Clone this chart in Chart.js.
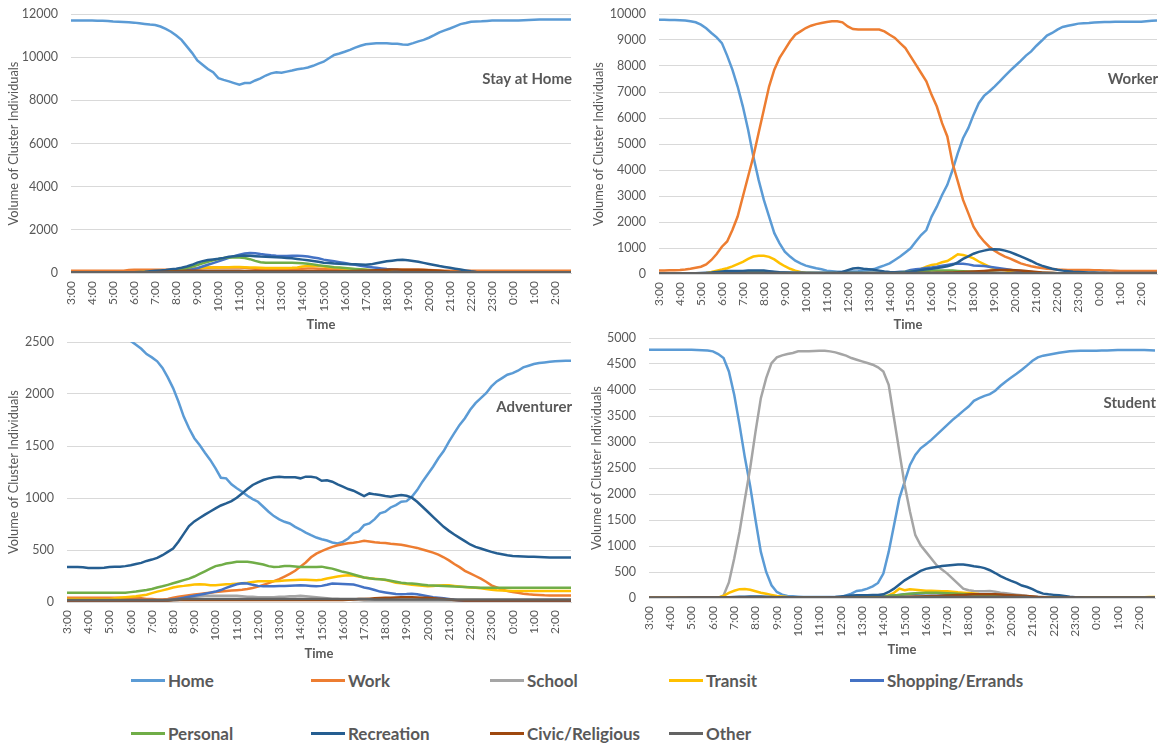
<!DOCTYPE html>
<html>
<head>
<meta charset="utf-8">
<title>Hourly activity volume by cluster</title>
<script src="https://cdn.jsdelivr.net/npm/chart.js@4.4.1/dist/chart.umd.min.js"></script>
<style>
  html, body { margin: 0; padding: 0; background: #ffffff; }
  body { width: 1167px; height: 744px; position: relative; overflow: hidden; font-family: Lato, "Open Sans", sans-serif; }
  .panel { position: absolute; }
  .panel canvas { display: block; }
  .legend-item { position: absolute; height: 22px; display: flex; align-items: center; white-space: nowrap;
                 font-weight: bold; font-size: 17px; color: #595959; }
  .legend-swatch { width: 34px; height: 3px; margin-right: 3px; }
</style>
</head>
<body>
<div class="panel" style="left:0px;top:0px;"><canvas id="stayAtHome" width="580" height="333"></canvas></div>
<div class="panel" style="left:585px;top:0px;"><canvas id="worker" width="582" height="333"></canvas></div>
<div class="panel" style="left:0px;top:330px;"><canvas id="adventurer" width="580" height="332"></canvas></div>
<div class="panel" style="left:583px;top:330px;"><canvas id="student" width="584" height="328"></canvas></div>
<div id="legend"></div>

<script>
// ---- time axis: hour tick labels and 15-minute slots ----
const HOUR_LABELS = ['3:00','4:00','5:00','6:00','7:00','8:00','9:00','10:00','11:00','12:00','13:00','14:00',
                     '15:00','16:00','17:00','18:00','19:00','20:00','21:00','22:00','23:00','0:00','1:00','2:00'];
const QUARTERS = ['00', '15', '30', '45'];
const TIME_SLOTS = HOUR_LABELS.flatMap(h => QUARTERS.map(q => h.replace(':00', ':' + q)));

// ---- activity categories ----
const ACTIVITIES = ['Home', 'Work', 'School', 'Transit', 'Shopping/Errands', 'Personal', 'Recreation', 'Civic/Religious', 'Other'];
const ACTIVITY_COLORS = ['#5B9BD5', '#ED7D31', '#A5A5A5', '#FFC000', '#4472C4', '#70AD47', '#255E91', '#9E480E', '#636363'];

// ---- Stay at Home cluster (values every 15 minutes, 3:00 -> 2:45) ----
const SAH_HOME = [
  11700,11700,11700,11700, 11700,11690,11690,11680, 11650,11640,11630,11620, 11600,11570,11540,11510, 11490,11420,11310,11180, 11000,10800,10500,10200,
  9850,9650,9450,9300, 9030,8950,8880,8800, 8720,8800,8800,8920, 9020,9150,9250,9300, 9280,9330,9380,9440, 9470,9520,9600,9700,
  9790,9950,10100,10170, 10250,10340,10440,10530, 10600,10620,10640,10640, 10640,10620,10620,10590, 10580,10650,10730,10800, 10900,11020,11150,11240,
  11330,11430,11530,11580, 11640,11650,11660,11680, 11700,11700,11700,11700, 11700,11700,11710,11720, 11730,11740,11740,11740, 11740,11740,11740,11740
];
const SAH_WORK = [
  100,100,100,100, 100,100,100,100, 100,100,110,140, 150,150,150,150, 150,150,150,150, 150,160,170,190,
  210,230,240,250, 250,260,260,260, 250,240,220,200, 190,180,180,180, 180,180,190,200, 200,210,210,200,
  190,180,170,160, 150,140,130,130, 120,120,120,120, 120,130,140,150, 150,150,150,150, 140,130,120,110,
  100,100,100,100, 100,100,100,100, 100,100,100,100, 100,100,100,100, 100,100,100,100, 100,100,100,100
];
const SAH_SCHOOL = [
  40,40,40,40, 40,40,40,40, 40,40,40,40, 40,40,40,40, 40,40,50,50, 50,60,60,70,
  70,80,80,80, 80,80,80,80, 80,80,80,80, 80,80,80,80, 80,80,80,80, 80,80,80,80,
  70,70,60,60, 60,50,50,50, 40,40,40,40, 40,40,40,40, 40,40,40,40, 40,40,40,40,
  40,40,40,40, 40,40,40,40, 40,40,40,40, 40,40,40,40, 40,40,40,40, 40,40,40,40
];
const SAH_TRANSIT = [
  40,40,40,40, 40,40,40,40, 40,40,40,40, 40,50,60,70, 80,90,100,120, 140,160,180,200,
  220,240,250,250, 260,270,270,280, 280,270,260,250, 240,230,230,230, 230,230,240,260, 300,330,340,330,
  300,270,250,230, 210,190,170,160, 150,130,110,100, 90,80,70,70, 60,60,60,60, 50,50,50,50,
  40,40,40,40, 40,40,40,40, 40,40,40,40, 40,40,40,40, 40,40,40,40, 40,40,40,40
];
const SAH_SHOPPING = [
  10,10,10,10, 10,10,10,10, 10,10,10,10, 10,10,20,20, 30,40,50,60, 80,100,130,170,
  220,300,380,460, 540,620,700,780, 850,900,930,920, 880,850,820,800, 790,790,800,800, 790,760,720,680,
  620,580,540,500, 460,420,380,340, 300,270,240,210, 180,160,140,110, 80,70,50,40, 30,20,20,10,
  10,10,10,10, 10,10,10,10, 10,10,10,10, 10,10,10,10, 10,10,10,10, 10,10,10,10
];
const SAH_PERSONAL = [
  20,20,20,20, 20,20,20,20, 20,20,20,20, 20,20,30,30, 40,60,80,100, 140,180,230,300,
  370,450,520,590, 650,700,720,730, 720,690,640,560, 500,480,480,480, 480,480,470,460, 450,430,400,360,
  330,300,270,250, 230,210,190,170, 150,130,110,100, 80,60,50,40, 30,30,20,20, 20,20,20,20,
  20,20,20,20, 20,20,20,20, 20,20,20,20, 20,20,20,20, 20,20,20,20, 20,20,20,20
];
const SAH_RECREATION = [
  30,30,30,30, 30,30,30,30, 30,30,30,30, 40,50,60,80, 100,120,140,170, 200,240,300,380,
  480,550,600,630, 660,700,750,780, 800,810,800,780, 760,750,740,730, 720,700,680,650, 620,590,560,520,
  480,460,440,430, 420,410,400,390, 380,400,450,500, 540,570,600,610, 590,560,520,470, 420,370,320,280,
  240,200,160,120, 80,50,30,20, 10,10,10,10, 10,10,10,10, 10,10,10,10, 10,10,10,10
];
const SAH_CIVIC = [
  30,30,30,30, 30,30,30,30, 30,30,30,30, 30,30,30,30, 40,50,60,70, 80,90,100,100,
  100,100,110,110, 110,110,100,100, 100,90,90,90, 80,80,80,80, 80,80,80,80, 80,80,80,80,
  80,80,80,80, 80,80,90,100, 110,120,130,140, 150,160,160,150, 150,150,150,140, 130,120,100,80,
  60,50,40,30, 20,20,20,20, 20,20,20,20, 20,20,20,20, 20,20,20,20, 20,20,20,20
];
const SAH_OTHER = [
  30,30,30,30, 30,30,30,30, 30,30,30,30, 30,30,30,30, 30,30,30,30, 50,50,50,50,
  50,50,50,50, 50,50,50,50, 50,50,50,50, 50,50,50,50, 50,50,50,50, 50,50,50,50,
  50,50,50,50, 50,50,50,50, 50,50,50,50, 30,30,30,30, 30,30,30,30, 30,30,30,30,
  30,30,30,30, 30,30,30,30, 30,30,30,30, 30,30,30,30, 30,30,30,30, 30,30,30,30
];

// ---- Worker cluster ----
const WRK_HOME = [
  9780,9780,9770,9770, 9760,9750,9720,9680, 9590,9450,9270,9100, 8880,8400,7860,7210, 6440,5550,4520,3620, 2850,2210,1570,1180,
  860,670,510,410, 320,270,220,180, 130,110,90,90, 90,100,110,130, 150,190,260,330, 410,540,670,830,
  990,1250,1500,1690, 2210,2590,3040,3430, 4000,4650,5220,5610, 6120,6570,6850,7020, 7210,7410,7620,7820, 8010,8200,8400,8560,
  8780,8970,9170,9270, 9400,9500,9550,9590, 9630,9640,9650,9670, 9680,9690,9690,9700, 9700,9700,9700,9700, 9700,9720,9740,9750
];
const WRK_WORK = [
  130,135,140,145, 150,170,200,240, 280,370,540,770, 1050,1250,1690,2210, 2980,3750,4520,5420, 6320,7210,7860,8310,
  8630,8950,9200,9330, 9460,9550,9610,9650, 9690,9720,9720,9680, 9520,9420,9400,9400, 9400,9400,9400,9330, 9200,9080,8880,8690,
  8370,8050,7730,7410, 6890,6440,5800,5290, 4260,3560,2850,2340, 1820,1500,1250,1050, 900,770,670,590, 500,410,350,300,
  260,230,200,190, 170,160,150,150, 150,150,150,145, 140,135,130,125, 120,120,120,120, 120,120,120,120
];
const WRK_SCHOOL = [
  10,10,10,10, 10,10,10,10, 10,10,10,10, 10,10,10,10, 10,10,10,10, 10,10,10,10,
  10,10,10,10, 10,10,10,10, 10,10,10,10, 10,10,10,10, 10,10,10,10, 10,10,10,10,
  10,10,10,10, 10,10,10,10, 10,10,10,10, 10,10,10,10, 10,10,10,10, 10,10,10,10,
  10,10,10,10, 10,10,10,10, 10,10,10,10, 10,10,10,10, 10,10,10,10, 10,10,10,10
];
const WRK_TRANSIT = [
  20,20,20,20, 20,20,20,20, 20,40,80,130, 170,220,290,380, 470,580,670,700, 700,660,560,420,
  300,200,130,80, 50,40,30,30, 30,30,30,30, 30,30,30,30, 30,30,30,40, 40,50,60,80,
  100,150,200,280, 350,380,450,500, 620,760,730,680, 600,480,380,280, 220,170,140,110, 90,80,70,60,
  50,45,40,35, 30,25,20,20, 20,20,20,20, 20,20,20,20, 20,20,20,20, 20,20,20,20
];
const WRK_SHOPPING = [
  20,20,20,20, 20,20,20,20, 20,20,20,20, 40,50,60,70, 80,90,100,100, 100,90,70,60,
  50,50,50,50, 50,50,50,50, 50,50,50,50, 50,50,50,50, 50,50,50,50, 60,70,90,100,
  150,180,200,230, 250,280,320,350, 380,390,390,370, 330,320,310,280, 250,220,190,160, 130,110,90,75,
  60,50,40,35, 30,25,20,20, 20,20,20,20, 20,20,20,20, 20,20,20,20, 20,20,20,20
];
const WRK_PERSONAL = [
  10,10,10,10, 10,10,10,10, 10,10,10,10, 20,30,40,50, 60,60,60,60, 60,50,50,40,
  40,40,40,40, 40,40,40,40, 40,40,40,40, 40,40,40,40, 40,40,40,40, 50,60,70,80,
  90,100,110,120, 130,130,130,130, 130,120,110,100, 90,80,70,60, 50,40,30,30, 20,20,20,20,
  20,20,20,20, 20,20,20,20, 20,20,20,20, 20,20,20,20, 20,20,20,20, 20,20,20,20
];
const WRK_RECREATION = [
  20,20,20,20, 20,20,20,30, 40,50,60,80, 100,120,120,120, 120,130,130,130, 130,110,90,70,
  60,50,40,35, 30,30,30,30, 30,30,50,80, 150,210,230,200, 180,160,130,100, 80,70,60,70,
  90,120,150,180, 200,230,260,300, 350,450,580,680, 780,850,900,940, 950,940,900,840, 760,680,590,500,
  400,320,260,200, 160,130,110,90, 80,70,60,55, 50,45,40,40, 40,40,40,40, 40,40,40,40
];
const WRK_CIVIC = [
  20,20,20,20, 20,20,20,20, 20,20,20,20, 20,20,20,20, 20,20,20,20, 20,20,20,20,
  20,20,20,20, 20,20,20,20, 20,20,20,20, 20,20,20,20, 20,20,20,20, 20,20,20,20,
  30,30,40,40, 40,50,50,60, 60,70,80,90, 100,110,120,130, 140,150,150,150, 140,130,120,100,
  80,60,50,40, 30,30,20,20, 20,20,20,20, 20,20,20,20, 20,20,20,20, 20,20,20,20
];
const WRK_OTHER = [
  30,30,30,30, 30,30,30,30, 30,30,30,30, 30,30,30,30, 40,40,40,40, 40,40,40,40,
  40,40,40,40, 40,40,40,40, 40,40,40,40, 40,40,40,40, 40,40,40,40, 40,40,40,40,
  40,40,40,40, 40,40,40,40, 40,40,40,40, 40,40,40,40, 40,40,40,40, 30,30,30,30,
  30,30,30,30, 30,30,30,30, 30,30,30,30, 30,30,30,30, 30,30,30,30, 30,30,30,30
];

// ---- Adventurer cluster ----
const ADV_HOME = [
  2650,2650,2650,2650, 2650,2650,2650,2640, 2630,2610,2590,2550, 2510,2474,2435,2384, 2352,2314,2250,2160, 2057,1928,1783,1671,
  1575,1510,1436,1366, 1285,1195,1189,1131, 1093,1060,1022,990, 964,916,868,826, 794,771,755,723, 697,668,643,620,
  604,591,572,562, 578,611,659,681, 739,755,797,852, 868,909,932,964, 970,1012,1076,1157, 1228,1301,1382,1452,
  1542,1623,1703,1767, 1848,1912,1960,2008, 2073,2121,2153,2185, 2201,2224,2256,2272, 2288,2298,2304,2310, 2314,2318,2320,2320
];
const ADV_WORK = [
  40,40,40,40, 40,40,40,40, 40,40,40,40, 40,38,35,30, 28,25,25,30, 40,50,58,65,
  72,78,84,90, 95,100,106,110, 114,118,125,135, 148,165,182,200, 220,245,270,300, 340,380,430,465,
  490,510,530,545, 555,565,570,578, 588,582,575,570, 568,560,555,550, 540,530,520,505, 490,475,455,430,
  400,365,335,300, 275,250,225,195, 160,140,120,105, 95,88,80,74, 70,67,64,63, 63,63,63,63
];
const ADV_SCHOOL = [
  10,10,10,10, 10,10,10,10, 10,10,10,10, 10,10,10,10, 10,10,10,10, 15,20,30,40,
  50,55,60,60, 60,60,60,60, 60,55,50,50, 45,45,45,45, 50,50,55,55, 60,55,50,45,
  40,35,30,30, 25,25,20,20, 15,15,15,15, 15,15,15,15, 15,15,15,15, 15,15,15,15,
  15,15,15,15, 15,15,15,15, 15,15,15,15, 15,15,15,15, 15,15,15,15, 15,15,15,15
];
const ADV_TRANSIT = [
  30,30,30,30, 30,30,30,30, 30,35,40,45, 50,55,62,70, 85,100,112,125, 140,150,155,162,
  168,170,168,162, 161,165,170,172, 176,180,185,192, 199,200,199,199, 202,206,209,212, 214,215,212,209,
  215,225,235,245, 252,257,255,245, 235,228,224,220, 212,200,186,180, 172,166,160,155, 151,154,158,160,
  160,155,150,145, 140,136,132,125, 118,112,110,108, 106,106,106,106, 106,106,106,106, 106,106,106,106
];
const ADV_SHOPPING = [
  15,15,15,15, 15,15,15,15, 15,15,15,15, 15,15,15,15, 15,15,15,20, 25,32,40,50,
  60,70,80,90, 100,115,135,154, 170,180,178,165, 155,151,151,151, 153,155,157,159, 161,158,155,151,
  155,165,177,175, 172,170,168,155, 140,130,115,100, 92,85,78,74, 76,80,75,65, 55,45,40,35,
  30,22,15,10, 6,5,5,5, 5,5,5,5, 5,5,5,5, 5,5,5,5, 5,5,5,5
];
const ADV_PERSONAL = [
  90,90,90,90, 90,90,90,90, 90,90,90,90, 95,100,108,115, 125,140,151,165, 180,195,210,225,
  245,270,295,320, 345,355,370,378, 386,388,386,380, 370,360,345,337, 340,345,347,342, 337,337,337,337,
  340,330,321,305, 290,280,265,250, 235,228,222,218, 215,205,195,186, 180,177,172,166, 161,158,156,154,
  152,148,146,145, 142,140,138,138, 138,138,138,138, 138,138,138,138, 138,138,138,138, 138,138,138,138
];
const ADV_RECREATION = [
  337,337,337,335, 328,328,328,330, 337,338,340,345, 353,365,376,395, 408,424,450,482, 515,580,655,730,
  775,808,840,870, 900,928,948,970, 1003,1044,1086,1125, 1150,1173,1189,1199, 1205,1199,1199,1199, 1189,1205,1205,1196,
  1166,1170,1157,1131, 1109,1086,1070,1044, 1019,1044,1035,1028, 1019,1012,1022,1028, 1022,1003,964,916, 868,819,771,723,
  684,649,617,585, 553,530,514,498, 482,469,460,450, 443,440,437,434, 434,432,430,428, 427,427,427,427
];
const ADV_CIVIC = [
  15,15,15,15, 15,15,15,15, 15,15,15,15, 15,15,15,15, 15,15,15,15, 20,20,20,20,
  20,20,20,20, 20,20,20,20, 20,20,20,20, 20,20,20,20, 20,20,20,20, 20,20,20,20,
  20,20,20,20, 20,22,25,28, 30,32,35,38, 40,42,44,45, 45,45,44,42, 40,36,32,28,
  24,20,18,15, 15,15,15,15, 15,15,15,15, 15,15,15,15, 15,15,15,15, 15,15,15,15
];
const ADV_OTHER = [
  20,20,20,20, 20,20,20,20, 20,20,20,20, 20,20,20,20, 20,20,20,20, 22,25,28,30,
  30,30,30,30, 30,30,30,30, 30,30,30,30, 30,30,30,30, 30,30,30,30, 30,30,30,30,
  30,30,30,30, 30,30,30,30, 28,26,25,25, 25,25,25,25, 25,25,25,25, 25,25,25,25,
  25,25,25,25, 25,25,25,25, 25,25,25,25, 25,25,25,25, 25,25,25,25, 25,25,25,25
];

// ---- Student cluster ----
const STU_HOME = [
  4775,4775,4775,4775, 4775,4775,4775,4775, 4775,4770,4765,4760, 4743,4692,4615,4357, 3908,3329,2700,2150, 1500,887,501,244,
  116,64,39,32, 25,20,20,20, 20,20,20,20, 20,51,84,135, 148,180,225,289, 469,887,1401,1915,
  2237,2558,2751,2879, 2956,3040,3136,3233, 3329,3426,3509,3599, 3683,3792,3843,3888, 3920,3985,4081,4165, 4242,4312,4390,4473,
  4563,4627,4660,4679, 4698,4717,4730,4743, 4750,4753,4756,4756, 4756,4760,4762,4765, 4769,4769,4769,4769, 4769,4769,4765,4762
];
const STU_WORK = [
  5,5,5,5, 5,5,5,5, 5,5,5,5, 5,5,5,5, 5,5,5,5, 5,5,5,5,
  5,5,5,5, 5,5,5,5, 5,5,5,5, 5,5,5,5, 5,5,5,5, 5,10,10,15,
  15,20,20,25, 25,30,30,35, 35,40,40,45, 45,50,50,50, 50,50,45,40, 35,30,25,20,
  15,10,10,5, 5,5,5,5, 5,5,5,5, 5,5,5,5, 5,5,5,5, 5,5,5,5
];
const STU_SCHOOL = [
  0,0,0,0, 0,0,0,0, 0,0,0,0, 0,0,50,300, 758,1273,1900,2500, 3200,3843,4229,4518,
  4627,4666,4692,4711, 4743,4743,4743,4750, 4756,4756,4743,4724, 4692,4660,4615,4583, 4550,4518,4486,4435, 4357,4100,3458,2815,
  2172,1658,1208,1015, 887,758,630,546, 469,373,276,180, 148,135,129,132, 135,120,103,90, 77,65,51,40,
  32,25,20,15, 10,10,10,10, 5,5,5,5, 5,5,5,5, 5,5,5,5, 5,5,5,5
];
const STU_TRANSIT = [
  0,0,0,0, 0,0,0,0, 0,0,0,0, 0,10,40,100, 140,170,175,160, 130,100,80,60,
  40,30,20,15, 10,10,10,10, 10,10,10,10, 10,10,10,10, 10,15,20,25, 30,50,100,180,
  150,170,160,150, 140,138,135,130, 128,120,110,103, 95,85,75,71, 60,51,45,40, 35,30,25,20,
  15,10,8,6, 5,5,5,5, 5,5,5,5, 5,5,5,5, 5,5,5,5, 10,15,20,20
];
const STU_SHOPPING = [
  0,0,0,0, 0,0,0,0, 0,0,0,0, 0,0,0,0, 5,10,15,15, 15,15,15,10,
  10,10,10,10, 10,10,10,10, 10,10,10,10, 10,10,10,10, 15,20,25,30, 35,40,50,60,
  70,75,80,85, 90,90,90,85, 80,75,70,65, 60,55,50,45, 40,35,30,25, 20,15,10,10,
  5,5,5,5, 5,5,5,5, 5,5,5,5, 5,5,5,5, 5,5,5,5, 5,5,5,5
];
const STU_PERSONAL = [
  0,0,0,0, 0,0,0,0, 0,0,0,0, 0,0,0,0, 5,10,10,10, 10,10,10,10,
  10,10,10,10, 10,10,10,10, 10,10,10,10, 10,10,10,10, 10,15,20,25, 30,40,50,60,
  70,80,90,95, 100,100,100,95, 90,85,80,75, 70,60,50,45, 40,35,30,25, 20,15,10,10,
  5,5,5,5, 5,5,5,5, 5,5,5,5, 5,5,5,5, 5,5,5,5, 5,5,5,5
];
const STU_RECREATION = [
  0,0,0,0, 0,0,5,5, 10,10,10,10, 10,10,10,15, 20,25,25,30, 30,30,25,20,
  15,15,10,10, 10,10,10,10, 10,10,15,20, 30,40,50,55, 55,55,60,60, 70,116,180,260,
  340,400,460,520, 560,580,598,615, 625,635,643,643, 630,610,598,575, 534,480,420,373, 330,290,240,212,
  170,120,84,70, 60,51,40,25, 15,10,5,5, 5,5,5,5, 5,5,5,5, 5,5,5,5
];
const STU_CIVIC = [
  5,5,5,5, 5,5,5,5, 5,5,5,5, 5,5,5,5, 5,5,5,5, 5,5,5,5,
  5,5,5,5, 5,5,5,5, 5,5,5,5, 5,5,5,5, 5,5,5,5, 5,10,10,15,
  20,25,30,30, 35,40,40,45, 50,55,60,60, 65,70,70,70, 70,70,65,60, 55,50,45,40,
  30,20,15,10, 5,5,5,5, 5,5,5,5, 5,5,5,5, 5,5,5,5, 5,5,5,5
];
const STU_OTHER = [
  5,5,5,5, 5,5,5,5, 5,5,5,5, 5,5,5,5, 5,5,5,5, 5,5,5,5,
  5,5,5,5, 5,5,5,5, 5,5,5,5, 5,5,5,5, 5,5,5,5, 20,20,20,20,
  20,20,20,20, 20,20,20,20, 20,20,20,20, 20,20,20,20, 20,20,20,20, 20,20,20,20,
  5,5,5,5, 5,5,5,5, 5,5,5,5, 5,5,5,5, 5,5,5,5, 5,5,5,5
];

// ---- drawing ----
Chart.defaults.font.family = "Lato, 'Open Sans', sans-serif";
Chart.defaults.color = '#595959';

const GRAY_TEXT = '#595959';
const GRID_COLOR = '#d9d9d9';

// cluster name written inside the plot, right-aligned below the top
const panelTitlePlugin = {
  id: 'panelTitle',
  afterDatasetsDraw(chart, args, opts) {
    const { ctx, chartArea } = chart;
    ctx.save();
    ctx.font = "bold 15px Lato, 'Open Sans', sans-serif";
    ctx.fillStyle = GRAY_TEXT;
    ctx.textAlign = 'right';
    ctx.textBaseline = 'middle';
    ctx.fillText(opts.text, chartArea.right + 1, chartArea.top + 65);
    ctx.restore();
  }
};

function drawPanel(canvasId, title, yMax, yStep, series, box) {
  const datasets = series.map((values, i) => ({
    label: ACTIVITIES[i],
    data: values,
    borderColor: ACTIVITY_COLORS[i],
    backgroundColor: ACTIVITY_COLORS[i],
    borderWidth: 2.5,
    pointRadius: 0,
    pointHoverRadius: 0,
    tension: 0,
    fill: false,
    order: series.length - i
  }));

  return new Chart(document.getElementById(canvasId), {
    type: 'line',
    data: { labels: TIME_SLOTS, datasets },
    options: {
      responsive: false,
      animation: false,
      events: [],
      layout: { padding: { top: box.padTop, right: box.padRight, left: 0, bottom: 0 } },
      plugins: {
        legend: { display: false },
        tooltip: { enabled: false },
        panelTitle: { text: title }
      },
      scales: {
        x: {
          type: 'category',
          offset: false,
          grid: { display: false, drawTicks: false },
          border: { display: true, color: GRID_COLOR, width: 1 },
          ticks: {
            autoSkip: false,
            minRotation: 90,
            maxRotation: 90,
            padding: 8,
            color: GRAY_TEXT,
            font: { size: 12 },
            callback: (value, index) => (index % 4 === 0 ? HOUR_LABELS[index / 4] : '')
          },
          title: {
            display: true,
            text: 'Time',
            color: GRAY_TEXT,
            font: { size: 13, weight: 'bold' },
            padding: { top: 0, bottom: 0 }
          },
          afterFit(scale) {
            scale.height = box.xHeight;
            scale.paddingLeft = 0;
            scale.paddingRight = 0;
          }
        },
        y: {
          min: 0,
          max: yMax,
          grid: { color: GRID_COLOR, lineWidth: 1, drawTicks: false },
          border: { display: false },
          ticks: {
            stepSize: yStep,
            padding: 13,
            color: GRAY_TEXT,
            font: { size: 12.5 },
            callback: value => String(value)
          },
          title: {
            display: true,
            text: 'Volume of Cluster Individuals',
            color: GRAY_TEXT,
            font: { size: 12.8 },
            padding: { top: 6, bottom: 0 }
          },
          afterFit(scale) {
            scale.width = box.yWidth;
            scale.paddingTop = 0;
            scale.paddingBottom = 0;
          }
        }
      }
    },
    plugins: [panelTitlePlugin]
  });
}

drawPanel('stayAtHome', 'Stay at Home', 12000, 2000,
  [SAH_HOME, SAH_WORK, SAH_SCHOOL, SAH_TRANSIT, SAH_SHOPPING, SAH_PERSONAL, SAH_RECREATION, SAH_CIVIC, SAH_OTHER],
  { padTop: 14, padRight: 9, yWidth: 71, xHeight: 60 });

drawPanel('worker', 'Worker', 10000, 1000,
  [WRK_HOME, WRK_WORK, WRK_SCHOOL, WRK_TRANSIT, WRK_SHOPPING, WRK_PERSONAL, WRK_RECREATION, WRK_CIVIC, WRK_OTHER],
  { padTop: 14, padRight: 10, yWidth: 74, xHeight: 59 });

drawPanel('adventurer', 'Adventurer', 2500, 500,
  [ADV_HOME, ADV_WORK, ADV_SCHOOL, ADV_TRANSIT, ADV_SHOPPING, ADV_PERSONAL, ADV_RECREATION, ADV_CIVIC, ADV_OTHER],
  { padTop: 12, padRight: 9, yWidth: 67, xHeight: 60 });

drawPanel('student', 'Student', 5000, 500,
  [STU_HOME, STU_WORK, STU_SCHOOL, STU_TRANSIT, STU_SHOPPING, STU_PERSONAL, STU_RECREATION, STU_CIVIC, STU_OTHER],
  { padTop: 8, padRight: 12, yWidth: 66, xHeight: 60 });

// shared legend, five columns over two rows
const LEGEND_SLOTS = [[131, 680], [311, 680], [490, 680], [669, 680], [850, 680],
                      [131, 733], [311, 733], [490, 733], [669, 733]];
const legend = document.getElementById('legend');
ACTIVITIES.forEach((name, i) => {
  const item = document.createElement('div');
  item.className = 'legend-item';
  item.style.left = LEGEND_SLOTS[i][0] + 'px';
  item.style.top = (LEGEND_SLOTS[i][1] - 11) + 'px';
  const swatch = document.createElement('span');
  swatch.className = 'legend-swatch';
  swatch.style.background = ACTIVITY_COLORS[i];
  const label = document.createElement('span');
  label.textContent = name;
  item.appendChild(swatch);
  item.appendChild(label);
  legend.appendChild(item);
});
</script>
</body>
</html>
